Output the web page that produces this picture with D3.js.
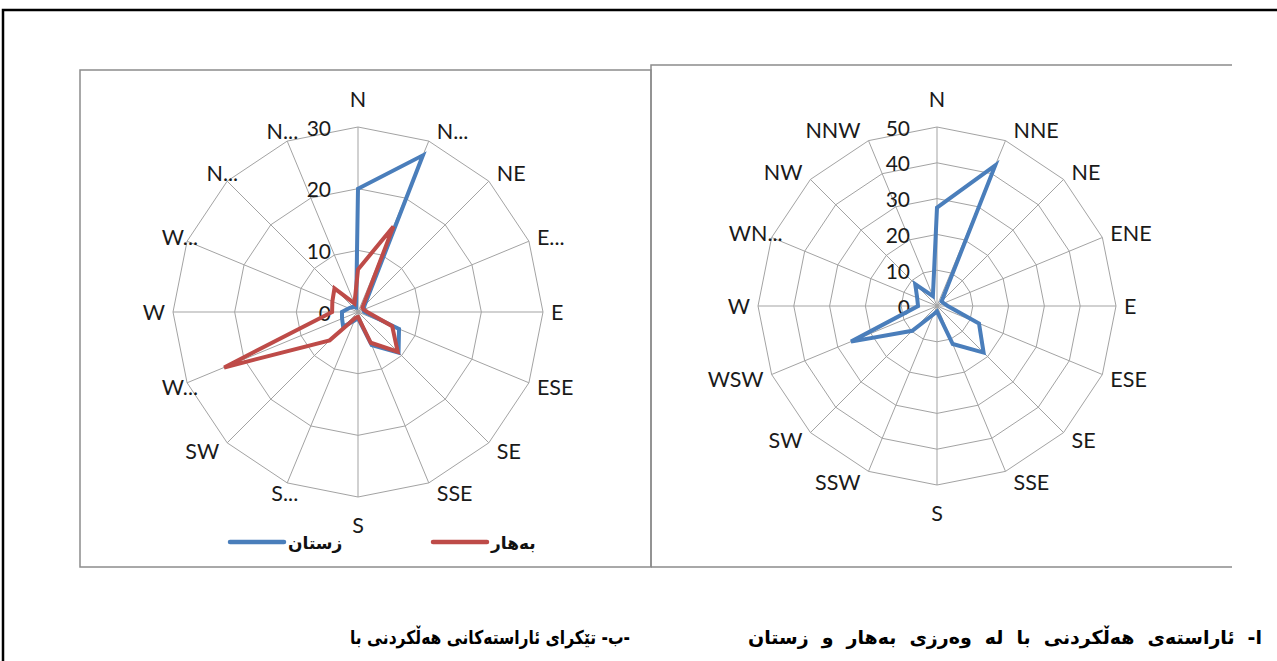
<!DOCTYPE html>
<html>
<head>
<meta charset="utf-8">
<script src="https://cdn.jsdelivr.net/npm/d3@7/dist/d3.min.js"></script>
<style>
  body { margin: 0; background: #fff; }
  svg { display: block; }
</style>
</head>
<body>
<div id="chart"></div>
<script>
// directions, clockwise from north
const directions = ["N", "NNE", "NE", "ENE", "E", "ESE", "SE", "SSE", "S", "SSW", "SW", "WSW", "W", "WNW", "NW", "NNW"];
// labels as they appear (Excel truncated some of them in the left chart)
const leftLabels = ["N", "N...", "NE", "E...", "E", "ESE", "SE", "SSE", "S", "S...", "SW", "W...", "W", "W...", "N...", "N..."];
const rightLabels = ["N", "NNE", "NE", "ENE", "E", "ESE", "SE", "SSE", "S", "SSW", "SW", "WSW", "W", "WN...", "NW", "NNW"];

// left chart: winter (blue) and spring (red)
const winter = [20, 27.5, 1.5, 1, 1, 7.2, 9.3, 5.8, 1, 1.5, 3.4, 2.8, 2.6, 1.6, 1.2, 0.8];
const spring = [6.9, 15, 1, 1, 1.5, 6, 9.1, 5.4, 0.8, 1, 6.5, 23.5, 4.2, 4.5, 5.4, 1.5];
// right chart: all directions
const overall = [27.5, 42.5, 1.8, 2, 3, 12.7, 18.4, 11.5, 1.5, 2.5, 9.8, 26, 5.3, 6, 8.6, 3];

const leftTicks = [0, 10, 20, 30];
const rightTicks = [0, 10, 20, 30, 40, 50];

const seriesNames = ["زستان", "بەهار"];
const captionRight = "ا- ئاراستەی هەڵکردنی با لە وەرزی بەهار و زستان";
const captionLeft = "-ب- تێکرای ئاراستەکانی هەڵکردنی با";

const width = 1277, height = 661;
const blue = "#4a7ebb", red = "#be4b48", grid = "#a3a3a3";
const latin = "Lato, 'Open Sans', sans-serif";
const arabic = "'DejaVu Sans', sans-serif";

const svg = d3.select("#chart").append("svg")
    .attr("width", width)
    .attr("height", height);

// outer page frame
svg.append("path")
    .attr("d", `M3,${height} V10 H${width}`)
    .attr("fill", "none")
    .attr("stroke", "#000")
    .attr("stroke-width", 2.5);

// chart boxes
svg.append("rect")
    .attr("x", 80).attr("y", 70)
    .attr("width", 571).attr("height", 497)
    .attr("fill", "none")
    .attr("stroke", "#8c8c8c")
    .attr("stroke-width", 1.5);

svg.append("path")
    .attr("d", "M651,567 V65 H1232 M651,567 H1232")
    .attr("fill", "none")
    .attr("stroke", "#8c8c8c")
    .attr("stroke-width", 1.5);

const angle = d3.scaleLinear()
    .domain([0, directions.length])
    .range([0, 2 * Math.PI]);

const drawRadar = (g, cx, cy, radius, ticks, labels, series) => {
    const r = d3.scaleLinear()
        .domain([0, d3.max(ticks)])
        .range([0, radius]);

    const ring = d3.lineRadial()
        .angle((d, i) => angle(i))
        .radius(d => r(d))
        .curve(d3.curveLinearClosed);

    const chart = g.append("g").attr("transform", `translate(${cx},${cy})`);

    // rings
    chart.selectAll(".ring")
        .data(ticks.slice(1))
        .join("path")
        .attr("class", "ring")
        .attr("d", t => ring(directions.map(() => t)))
        .attr("fill", "none")
        .attr("stroke", grid)
        .attr("stroke-width", 1);

    // spokes
    chart.selectAll(".spoke")
        .data(directions)
        .join("line")
        .attr("class", "spoke")
        .attr("x1", 0).attr("y1", 0)
        .attr("x2", (d, i) => Math.sin(angle(i)) * radius)
        .attr("y2", (d, i) => -Math.cos(angle(i)) * radius)
        .attr("stroke", grid)
        .attr("stroke-width", 1);

    // category labels, placed beside the outer vertex like Excel does
    chart.selectAll(".cat")
        .data(labels)
        .join("text")
        .attr("class", "cat")
        .each(function (d, i) {
            const ux = Math.sin(angle(i)), uy = -Math.cos(angle(i));
            const vx = ux * radius, vy = uy * radius;
            const t = d3.select(this);
            if (Math.abs(ux) < 0.01) {
                t.attr("x", 0).attr("y", uy * (radius + 28)).attr("text-anchor", "middle");
            } else if (ux < 0 && d.endsWith("...")) {
                // truncated labels on the left keep the box of the full name
                t.attr("x", vx + 11).attr("y", vy + uy * 11).attr("text-anchor", "end");
            } else {
                t.attr("x", vx + Math.sign(ux) * 8)
                 .attr("y", vy + uy * 11)
                 .attr("text-anchor", ux > 0 ? "start" : "end");
            }
        })
        .attr("dominant-baseline", "central")
        .attr("font-family", latin)
        .attr("font-size", 21.5)
        .attr("fill", "#1a1a1a")
        .text(d => d);

    // value ticks
    chart.selectAll(".tick")
        .data(ticks)
        .join("text")
        .attr("class", "tick")
        .attr("x", -27)
        .attr("y", d => -r(d))
        .attr("text-anchor", "end")
        .attr("dominant-baseline", "central")
        .attr("font-family", latin)
        .attr("font-size", 21)
        .attr("fill", "#1a1a1a")
        .text(d => d);

    // series
    chart.selectAll(".series")
        .data(series)
        .join("path")
        .attr("class", "series")
        .attr("d", s => ring(s.values))
        .attr("fill", "none")
        .attr("stroke", s => s.color)
        .attr("stroke-width", 4)
        .attr("stroke-linejoin", "miter");
};

drawRadar(svg, 358, 312, 185, leftTicks, leftLabels, [
    { name: seriesNames[0], values: winter, color: blue },
    { name: seriesNames[1], values: spring, color: red }
]);

drawRadar(svg, 937, 306, 179, rightTicks, rightLabels, [
    { name: "", values: overall, color: blue }
]);

// legend of the left chart
const legend = svg.append("g");
const legendItems = [
    { name: seriesNames[0], color: blue, x: 230 },
    { name: seriesNames[1], color: red, x: 433 }
];
legend.selectAll("line")
    .data(legendItems)
    .join("line")
    .attr("x1", d => d.x).attr("x2", d => d.x + 54)
    .attr("y1", 542).attr("y2", 542)
    .attr("stroke", d => d.color)
    .attr("stroke-width", 4.5)
    .attr("stroke-linecap", "round");
legend.selectAll("text")
    .data(legendItems)
    .join("text")
    .attr("x", d => d.x + 58)
    .attr("y", 549)
    .attr("direction", "rtl")
    .attr("text-anchor", "end")
    .attr("font-family", arabic)
    .attr("font-weight", "bold")
    .attr("font-size", 17)
    .attr("fill", "#111")
    .text(d => d.name);

// captions under the charts (the right one is justified in the document)
const captions = svg.selectAll(".caption")
    .data([{ text: captionLeft, x: 490, w: 280 }, { text: captionRight, x: 1005, w: 514 }])
    .join("text")
    .attr("class", "caption")
    .attr("x", d => d.x)
    .attr("y", 644)
    .attr("direction", "rtl")
    .attr("text-anchor", "middle")
    .attr("font-family", arabic)
    .attr("font-weight", "bold")
    .attr("font-size", 19)
    .attr("fill", "#000")
    .text(d => d.text);

captions.each(function (d) {
    const t = d3.select(this);
    const natural = this.getComputedTextLength();
    const gaps = d.text.split(" ").length - 1;
    if (natural < d.w) {
        t.attr("word-spacing", (d.w - natural) / gaps);
    } else {
        t.attr("textLength", d.w).attr("lengthAdjust", "spacingAndGlyphs");
    }
});
</script>
</body>
</html>
